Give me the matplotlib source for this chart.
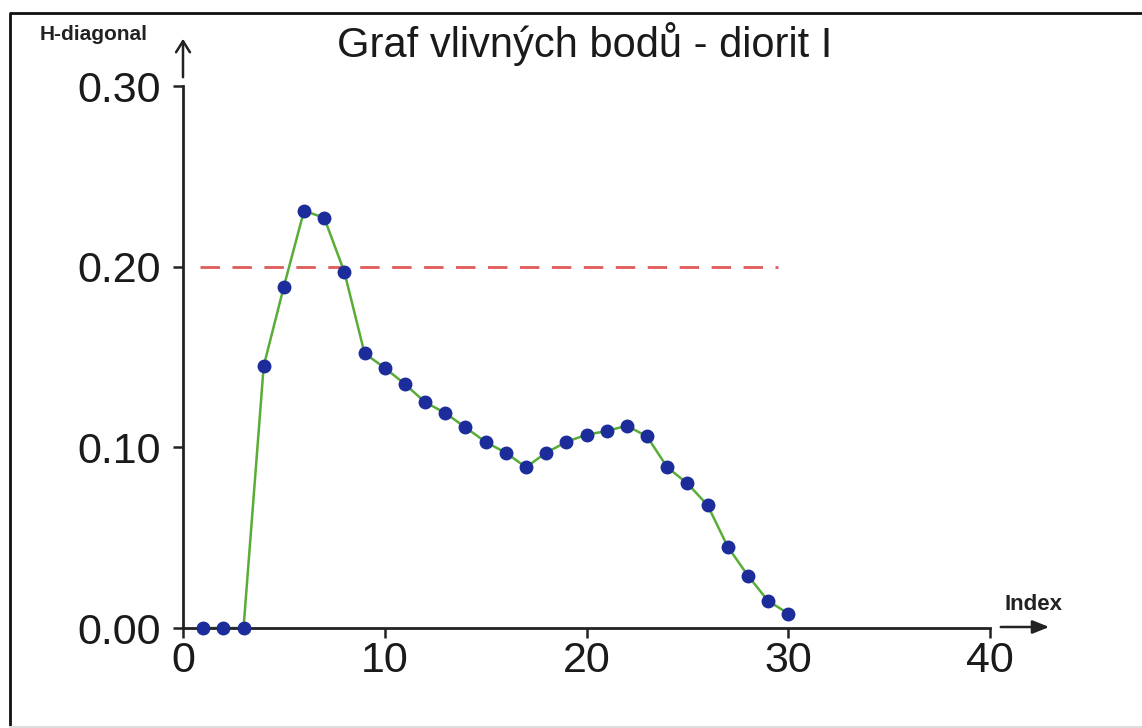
import matplotlib.pyplot as plt
from matplotlib.patches import FancyArrowPatch
from matplotlib.lines import Line2D

plt.rcParams['font.family'] = ['Liberation Sans', 'DejaVu Sans']

# Index of observation and H-diagonal values
index = list(range(1, 31))
h_diag = [0.000, 0.000, 0.000, 0.145, 0.189, 0.231, 0.227, 0.197, 0.152, 0.144,
          0.135, 0.125, 0.119, 0.111, 0.103, 0.097, 0.089, 0.097, 0.103, 0.107,
          0.109, 0.112, 0.106, 0.089, 0.080, 0.068, 0.045, 0.029, 0.015, 0.008]

# critical value line
limit_x = [0.85, 29.5]
limit_y = [0.20, 0.20]

x_ticks = [0, 10, 20, 30, 40]
y_ticks = [0.00, 0.10, 0.20, 0.30]

W, H = 1142, 728
fig = plt.figure(figsize=(W / 100, H / 100), dpi=100)
ax = fig.add_axes([183 / W, 100 / H, (990 - 183) / W, (642 - 100) / H])

ax.plot(limit_x, limit_y, color='#e05a5a', lw=2, dashes=(7, 4.5))
ax.plot(index, h_diag, color='#58ad36', lw=1.8, zorder=2)
ax.plot(index, h_diag, 'o', color='#1c2c9a', ms=9, zorder=3, clip_on=False)

ax.set_xlim(0, 40)
ax.set_ylim(0, 0.30)
ax.set_xticks(x_ticks)
ax.set_yticks(y_ticks)
ax.set_yticklabels(['%.2f' % v for v in y_ticks])
ax.tick_params(axis='both', labelsize=31, length=7, width=1.8, color='#222222',
               labelcolor='#1a1a1a')
ax.tick_params(axis='y', pad=9)
ax.tick_params(axis='x', pad=2)
for s in ['top', 'right']:
    ax.spines[s].set_visible(False)
for s in ['left', 'bottom']:
    ax.spines[s].set_linewidth(2)
    ax.spines[s].set_color('#222222')

fig.text(585 / W, 1 - 57 / H, 'Graf vlivných bodů - diorit I', ha='center',
         va='baseline', fontsize=30, color='#1a1a1a')
fig.text(40 / W, 1 - 40 / H, 'H-diagonal', ha='left', va='baseline',
         fontsize=15, fontweight='bold', color='#222222')
fig.text(1004 / W, 1 - 610 / H, 'Index', ha='left', va='baseline',
         fontsize=16, fontweight='bold', color='#222222')

# axis arrows
fig.add_artist(FancyArrowPatch((183, H - 80), (183, H - 36), transform=None,
                               arrowstyle='->,head_length=8,head_width=5',
                               lw=1.8, color='#222222'))
fig.add_artist(FancyArrowPatch((998, H - 627), (1052, H - 627), transform=None,
                               arrowstyle='-|>,head_length=10,head_width=4',
                               lw=1.8, color='#222222'))

# outer frame: dark top and left edges, faint bottom edge
fig.add_artist(Line2D([10, 10, W + 5], [0, H - 13, H - 13], transform=None,
                      lw=2, color='#111111'))
fig.add_artist(Line2D([10, W + 5], [1.5, 1.5], transform=None,
                      lw=1.5, color='#dddddd'))

fig.savefig('out.png', dpi=100)
